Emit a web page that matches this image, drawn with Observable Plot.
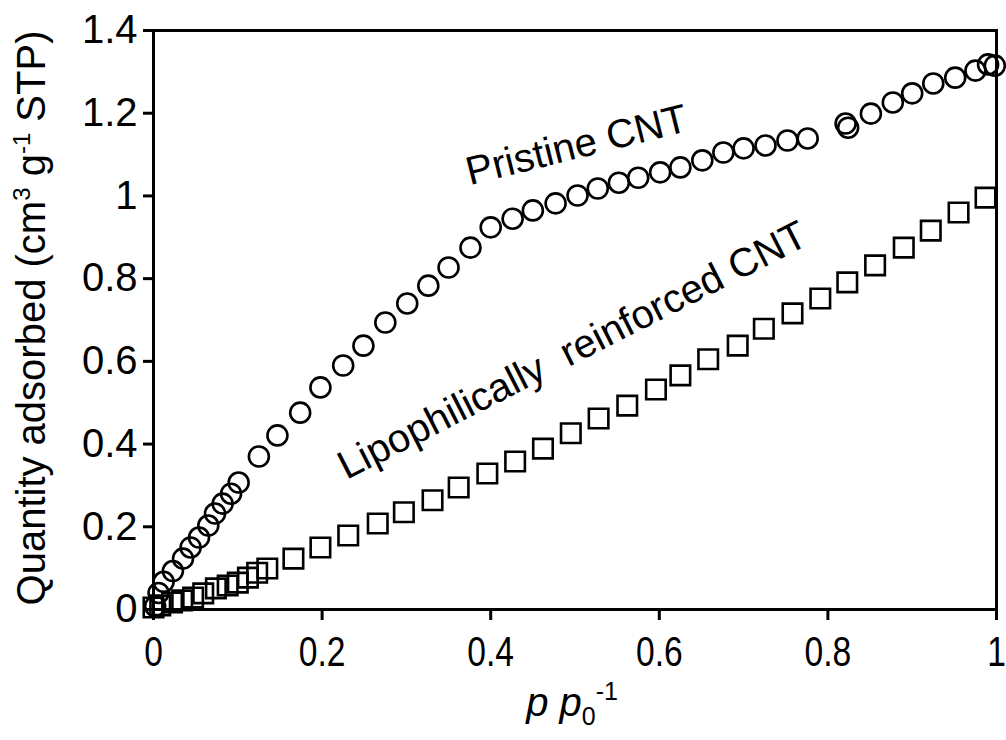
<!DOCTYPE html>
<html>
<head>
<meta charset="utf-8">
<script src="https://cdn.jsdelivr.net/npm/d3@7"></script>
<script src="https://cdn.jsdelivr.net/npm/@observablehq/plot@0.6"></script>
<style>
  html, body { margin: 0; padding: 0; background: #fff; }
</style>
</head>
<body>
<div id="chart"></div>
<script>
// Pristine CNT (circles)
const pristineX = [0.002, 0.006, 0.012, 0.023, 0.035, 0.044, 0.054, 0.065, 0.073, 0.082, 0.092, 0.101,
  0.125, 0.147, 0.174, 0.198, 0.225, 0.249, 0.275, 0.301, 0.326, 0.35, 0.376, 0.4,
  0.426, 0.45, 0.477, 0.503, 0.527, 0.552, 0.575, 0.601, 0.625, 0.651, 0.676, 0.7, 0.726, 0.752, 0.776,
  0.821, 0.824, 0.851, 0.877, 0.9, 0.925, 0.951, 0.975, 0.99, 0.998];
const pristineY = [0.008, 0.04, 0.067, 0.093, 0.123, 0.15, 0.174, 0.203, 0.232, 0.256, 0.28, 0.307,
  0.37, 0.421, 0.476, 0.537, 0.59, 0.638, 0.694, 0.74, 0.783, 0.827, 0.875, 0.924,
  0.945, 0.965, 0.982, 1.001, 1.018, 1.032, 1.044, 1.057, 1.069, 1.086, 1.105, 1.115, 1.122, 1.134, 1.139,
  1.175, 1.165, 1.199, 1.226, 1.248, 1.272, 1.286, 1.303, 1.318, 1.315];

// Lipophilically reinforced CNT (squares)
const lipoX = [0.0, 0.008, 0.022, 0.034, 0.047, 0.059, 0.074, 0.088, 0.1, 0.112, 0.123, 0.135,
  0.166, 0.198, 0.231, 0.266, 0.297, 0.331, 0.362, 0.396, 0.429, 0.462, 0.495, 0.528, 0.562,
  0.596, 0.625, 0.658, 0.693, 0.724, 0.758, 0.791, 0.823, 0.856, 0.89, 0.922, 0.955, 0.987];
const lipoY = [0.005, 0.01, 0.017, 0.022, 0.029, 0.039, 0.051, 0.058, 0.065, 0.077, 0.089, 0.099,
  0.123, 0.15, 0.179, 0.208, 0.235, 0.264, 0.295, 0.329, 0.358, 0.389, 0.426, 0.462, 0.493,
  0.532, 0.566, 0.605, 0.638, 0.679, 0.716, 0.752, 0.791, 0.832, 0.875, 0.916, 0.96, 0.996];

const xTicks = [0, 0.2, 0.4, 0.6, 0.8, 1];
const yTicks = [0, 0.2, 0.4, 0.6, 0.8, 1, 1.2, 1.4];

const seriesNames = ["Pristine CNT", "Lipophilically  reinforced CNT"];
const labelX = [0.502, 0.497];
const labelY = [1.122, 0.626];
const labelAngle = [-14, -27];
const labelSize = [40, 40];

const pristine = pristineX.map((x, i) => ({x, y: pristineY[i]}));
const lipo = lipoX.map((x, i) => ({x, y: lipoY[i]}));
const labels = seriesNames.map((t, i) => ({text: t, x: labelX[i], y: labelY[i], rotate: labelAngle[i], size: labelSize[i]}));

const FONT = "'Liberation Sans', Arial, Helvetica, sans-serif";

const svg = Plot.plot({
  width: 1006,
  height: 740,
  marginLeft: 153,
  marginRight: 10,
  marginTop: 30,
  marginBottom: 131,
  x: {domain: [0, 1]},
  y: {domain: [0, 1.4]},
  style: {fontFamily: FONT, fontSize: "40px", color: "black", background: "white", overflow: "visible"},
  marks: [
    Plot.frame({stroke: "black", strokeWidth: 3}),
    Plot.axisX({ticks: xTicks, tickSize: 11, tickPadding: 16, tickFormat: d => String(d), label: null, strokeWidth: 3, fontSize: 42}),
    Plot.axisY({ticks: yTicks, tickSize: 10, tickPadding: 6, tickFormat: d => String(d), label: null, strokeWidth: 3, fontSize: 40}),
    Plot.dot(pristine, {x: "x", y: "y", r: 10, stroke: "black", strokeWidth: 2.6, fill: "none"}),
    Plot.dot(lipo, {x: "x", y: "y", symbol: "square", r: 11, stroke: "black", strokeWidth: 2.6, fill: "none"}),
    Plot.text(labels, {x: "x", y: "y", text: "text", rotate: "rotate", fontSize: "size", textAnchor: "middle", lineAnchor: "middle", fill: "black"})
  ]
});

const s = d3.select(svg);
// condense the x tick labels horizontally, as in the reference
s.selectAll('g[aria-label="x-axis tick label"] text').each(function() {
  const t = this.getAttribute("transform") || "";
  this.setAttribute("transform", t + " scale(0.8,1)");
});

// y-axis title
const yt = s.append("text")
  .attr("transform", "translate(45,318) rotate(-90)")
  .attr("text-anchor", "middle")
  .attr("font-size", 40)
  .attr("font-family", FONT)
  .attr("fill", "black");
yt.append("tspan").text("Quantity adsorbed (cm");
yt.append("tspan").attr("font-size", 24).attr("dy", -15).text("3");
yt.append("tspan").attr("dy", 15).text(" g");
yt.append("tspan").attr("font-size", 24).attr("dy", -15).text("-1");
yt.append("tspan").attr("dy", 15).text(" STP)");

// x-axis title
const xt = s.append("text")
  .attr("x", 572)
  .attr("y", 716)
  .attr("text-anchor", "middle")
  .attr("font-size", 40)
  .attr("font-family", FONT)
  .attr("fill", "black");
xt.append("tspan").attr("font-style", "italic").text("p p");
xt.append("tspan").attr("font-size", 25).attr("dy", 9).text("0");
xt.append("tspan").attr("font-size", 25).attr("dy", -25).text("-1");

document.getElementById("chart").appendChild(svg);
</script>
</body>
</html>
